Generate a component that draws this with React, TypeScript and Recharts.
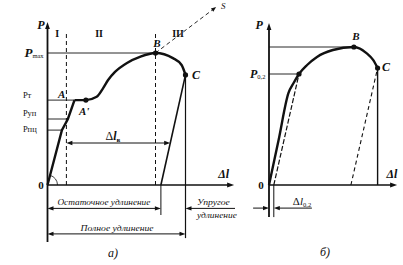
import React from 'react';
import { ComposedChart, Line, XAxis, YAxis, ReferenceLine, ReferenceDot } from 'recharts';

// units: Δl and P in arbitrary divisions
type Pt = [number, number];

// --- panel а) ---
const loadA: Pt[] = [[0, 0], [4.8, 18.3], [6.8, 22], [9, 28.3]];
const yieldA: Pt[] = [
  [9, 28.3], [12.8, 28.3], [16.4, 29.4], [18.5, 32.2], [20.2, 35], [22.5, 37.7],
  [26.5, 40.7], [30.8, 42.7], [36, 44], [41.8, 42.3], [44.7, 40], [46, 36.7],
];
const unloadA: Pt[] = [[46, 36.7], [37.8, 0]];
const P_MAX_A = 44;
const P_T = 28.3;
const P_UP = 22;
const P_PC = 18.3;
const DL_A = 6.3; // граница I/II
const DL_B = 36; // точка B
const DL_C = 46; // точка C
const DL_RES = 37.8; // остаточное удлинение
const S_END: Pt = [56.2, 59.3];
const zoneLabels = ['I', 'II', 'III'];
const zoneX = [3.2, 17.2, 43.5];

// --- panel б) ---
const curveB: Pt[] = [
  [0, 0], [3.2, 15], [6.5, 30.7], [8.2, 34], [10, 37], [12.7, 40], [16, 42.7],
  [21.3, 45], [28.3, 46], [32.6, 43.9], [34.7, 41.7], [36.2, 39],
];
const offsetB: Pt[] = [[1.6, 0], [10, 37]];
const unloadB: Pt[] = [[27.3, 0], [36.2, 39]];
const P_MAX_B = 46;
const P_02 = 37;
const DL_02 = 1.6;

const FONT = '"Liberation Serif", "DejaVu Serif", serif';
const PX = 3;
const H = 265;
const ORIGIN_Y = 185;
const INK = '#111';

const toObj = (pts: Pt[]) => pts.map(([x, y]) => ({ x, y }));

function head(x: number, y: number, ux: number, uy: number, l: number, w: number) {
  const bx = x - ux * l;
  const by = y - uy * l;
  return (
    <polygon
      points={`${x},${y} ${bx - uy * w},${by + ux * w} ${bx + uy * w},${by - ux * w}`}
      fill={INK}
    />
  );
}

type SegOpt = { w?: number; dash?: string; start?: boolean; end?: boolean; hl?: number; hw?: number };

function ArrowLine(p: any) {
  const { x1, y1, x2, y2, w = 1, dash, start, end, hl = 6, hw = 2.2 } = p;
  const d = Math.hypot(x2 - x1, y2 - y1) || 1;
  const ux = (x2 - x1) / d;
  const uy = (y2 - y1) / d;
  const ax = start ? x1 + ux * hl * 0.8 : x1;
  const ay = start ? y1 + uy * hl * 0.8 : y1;
  const bx = end ? x2 - ux * hl * 0.8 : x2;
  const by = end ? y2 - uy * hl * 0.8 : y2;
  return (
    <g>
      <line x1={ax} y1={ay} x2={bx} y2={by} stroke={INK} strokeWidth={w} strokeDasharray={dash} />
      {start && head(x1, y1, -ux, -uy, hl, hw)}
      {end && head(x2, y2, ux, uy, hl, hw)}
    </g>
  );
}

const seg = (key: string, a: Pt, b: Pt, o: SegOpt = {}) => (
  <ReferenceLine
    key={key}
    segment={[{ x: a[0], y: a[1] }, { x: b[0], y: b[1] }]}
    ifOverflow="visible"
    shape={(p: any) => <ArrowLine {...p} {...o} />}
  />
);

const dot = (key: string, p: Pt) => (
  <ReferenceDot key={key} x={p[0]} y={p[1]} r={2.6} fill={INK} stroke="none" ifOverflow="visible" />
);

type TxtOpt = {
  size?: number;
  italic?: boolean;
  bold?: boolean;
  anchor?: 'start' | 'middle' | 'end';
  len?: number;
};

const txt = (key: string, p: Pt, content: React.ReactNode, o: TxtOpt = {}) => (
  <ReferenceDot
    key={key}
    x={p[0]}
    y={p[1]}
    r={0}
    ifOverflow="visible"
    shape={(d: any) => (
      <text
        x={d.cx}
        y={d.cy}
        fontFamily={FONT}
        fontSize={o.size ?? 10}
        fontStyle={o.italic ? 'italic' : 'normal'}
        fontWeight={o.bold ? 'bold' : 'normal'}
        textAnchor={o.anchor ?? 'middle'}
        fill={INK}
        textLength={o.len}
        lengthAdjust={o.len ? 'spacingAndGlyphs' : undefined}
      >
        {content}
      </text>
    )}
  />
);

function Panel({ left, width, originX, children }: { left: number; width: number; originX: number; children: React.ReactNode }) {
  return (
    <div style={{ position: 'absolute', left, top: 0 }}>
      <ComposedChart width={width} height={H} margin={{ top: 0, right: 0, bottom: 0, left: 0 }}>
        <XAxis type="number" dataKey="x" hide allowDataOverflow domain={[-originX / PX, (width - originX) / PX]} />
        <YAxis type="number" dataKey="y" hide allowDataOverflow domain={[-(H - ORIGIN_Y) / PX, ORIGIN_Y / PX]} />
        {children}
      </ComposedChart>
    </div>
  );
}

const curveLine = (key: string, pts: Pt[], type: 'linear' | 'monotone', w: number, dash?: string) => (
  <Line
    key={key}
    data={toObj(pts)}
    dataKey="y"
    type={type}
    stroke={INK}
    strokeWidth={w}
    strokeDasharray={dash}
    dot={false}
    activeDot={false}
    isAnimationActive={false}
  />
);

export default function App() {
  const angle = Math.atan2(loadA[1][1], loadA[1][0]);
  return (
    <div style={{ position: 'absolute', left: 0, top: 0, width: 403, height: 265, background: '#fff', overflow: 'hidden' }}>
      <Panel left={0} width={240} originX={47.5}>
        {seg('pmax', [0, P_MAX_A], [DL_B, P_MAX_A], { w: 0.9 })}
        {seg('pt', [0, P_T], [loadA[3][0], P_T], { w: 0.9 })}
        {seg('pup', [0, P_UP], [loadA[2][0], P_UP], { w: 0.9 })}
        {seg('ppc', [0, P_PC], [loadA[1][0], P_PC], { w: 0.9 })}
        {seg('zone1', [DL_A, 0], [DL_A, 51], { w: 1, dash: '4 3' })}
        {seg('zone2', [DL_B, 0], [DL_B, 51], { w: 1, dash: '4 3' })}
        {seg('bs', [DL_B, P_MAX_A], S_END, { w: 0.9, dash: '4 3', end: true, hl: 5, hw: 2 })}
        {seg('unload', unloadA[0], unloadA[1], { w: 1.6 })}
        {seg('vres', [DL_RES, 0], [DL_RES, -10], { w: 1 })}
        {seg('vc', [DL_C, 36.7], [DL_C, -17.7], { w: 1.2 })}
        {seg('dlv', [DL_A, 14], [40.9, 14], { w: 1, start: true, end: true })}
        {seg('res', [0, -7.8], [DL_RES, -7.8], { w: 1, start: true, end: true })}
        {seg('el', [62.5, -7.8], [DL_C, -7.8], { w: 1, end: true })}
        {seg('full', [0, -16.3], [DL_C, -16.3], { w: 1, start: true, end: true })}
        {seg('xaxis', [0, 0], [62.2, 0], { w: 1.6, end: true, hl: 7, hw: 2.4 })}
        {seg('yaxis', [0, -19], [0, 54.3], { w: 1.8, end: true, hl: 7, hw: 2.4 })}
        {curveLine('load', loadA, 'linear', 2.4)}
        {curveLine('yield', yieldA, 'monotone', 2.4)}
        <ReferenceDot
          x={0}
          y={0}
          r={0}
          ifOverflow="visible"
          shape={(d: any) => (
            <path
              d={`M${d.cx + 10},${d.cy} A10,10 0 0 0 ${d.cx + 10 * Math.cos(angle)},${d.cy - 10 * Math.sin(angle)}`}
              fill="none"
              stroke={INK}
              strokeWidth={0.8}
            />
          )}
        />
        {dot('dA1', yieldA[1])}
        {dot('dB', yieldA[8])}
        {dot('dC', yieldA[11])}
        {zoneLabels.map((z, i) => txt(`z${i}`, [zoneX[i], 49.5], z, { size: 10, bold: true }))}
        {txt('P', [-2.2, 52], 'P', { size: 12, italic: true, bold: true })}
        {txt(
          'Pmax',
          [-1.3, 42.7],
          <>
            <tspan fontStyle="italic" fontWeight="bold" fontSize={13}>P</tspan>
            <tspan fontSize={6.5} dy={1}>max</tspan>
          </>,
          { anchor: 'end' },
        )}
        {txt('Pt', [-8.2, 29], 'Рт', { size: 8.5, anchor: 'start' })}
        {txt('Pup', [-8.2, 23], 'Руп', { size: 8.5, anchor: 'start' })}
        {txt('Ppc', [-8.2, 17.7], 'Рпц', { size: 8.5, anchor: 'start' })}
        {txt('A', [4.7, 29], 'A', { size: 11, italic: true, bold: true })}
        {txt('A1', [12.2, 23.3], "A'", { size: 11, italic: true, bold: true })}
        {txt('B', [36.5, 46], 'B', { size: 11, italic: true, bold: true })}
        {txt('C', [49.5, 35.3], 'C', { size: 12, italic: true, bold: true })}
        {txt('S', [57.8, 58.6], 'S', { size: 9, italic: true, anchor: 'start' })}
        {txt('O', [-2.2, -1.3], '0', { size: 11, bold: true })}
        {txt('dl', [58.7, 2.3], 'Δl', { size: 12, italic: true, bold: true })}
        {txt(
          'dlv',
          [21.8, 15],
          <>
            <tspan fontSize={12}>Δ</tspan>
            <tspan fontSize={12} fontStyle="italic" fontWeight="bold">l</tspan>
            <tspan fontSize={7} dy={2} fontWeight="bold">в</tspan>
          </>,
        )}
        {txt('res', [18.8, -6.8], 'Остаточное удлинение', { size: 9, italic: true, len: 93 })}
        {txt('el1', [49.8, -6.7], 'Упругое', { size: 9, italic: true, anchor: 'start', len: 33 })}
        {txt('el2', [49.8, -11], 'удлинение', { size: 9, italic: true, anchor: 'start', len: 40 })}
        {txt('full', [23.2, -15.3], 'Полное удлинение', { size: 9, italic: true, len: 73 })}
        {txt('a', [21.8, -24], 'а)', { size: 12, italic: true })}
      </Panel>
      <Panel left={240} width={163} originX={29}>
        {seg('pmax', [0, P_MAX_B], [curveB[8][0], P_MAX_B], { w: 0.9 })}
        {seg('p02', [0, P_02], [curveB[4][0], P_02], { w: 0.9 })}
        {seg('vc', [curveB[11][0], curveB[11][1]], [curveB[11][0], 0], { w: 1.4 })}
        {seg('off', offsetB[0], offsetB[1], { w: 1.2, dash: '5 2' })}
        {seg('unl', unloadB[0], unloadB[1], { w: 1.1, dash: '4 3' })}
        {seg('v02', [DL_02, 0], [DL_02, -10.7], { w: 1 })}
        {seg('a1', [-5.3, -7.7], [0, -7.7], { w: 1, end: true })}
        {seg('a2', [14.3, -7.7], [DL_02, -7.7], { w: 1, end: true })}
        {seg('xaxis', [0, 0], [42.7, 0], { w: 1.5, end: true, hl: 7, hw: 2.4 })}
        {seg('yaxis', [0, -10.7], [0, 54], { w: 1.8, end: true, hl: 7, hw: 2.4 })}
        {curveLine('curve', curveB, 'monotone', 2.4)}
        {dot('d02', curveB[4])}
        {dot('dB', curveB[8])}
        {dot('dC', curveB[11])}
        {txt('P', [-3.3, 52], 'P', { size: 12, italic: true, bold: true })}
        {txt(
          'P02',
          [-1.2, 35.7],
          <>
            <tspan fontStyle="italic" fontWeight="bold" fontSize={12}>P</tspan>
            <tspan fontSize={6.5} dy={1.5}>0,2</tspan>
          </>,
          { anchor: 'end' },
        )}
        {txt('O', [-2.7, -1.3], '0', { size: 11, bold: true })}
        {txt('B', [29, 48.3], 'B', { size: 11, italic: true, bold: true })}
        {txt('C', [39, 38], 'C', { size: 12, italic: true, bold: true })}
        {txt('dl', [41, 2.3], 'Δl', { size: 12, italic: true, bold: true })}
        {txt(
          'dl02',
          [11, -6.6],
          <>
            <tspan fontSize={11}>Δ</tspan>
            <tspan fontSize={11} fontStyle="italic">l</tspan>
            <tspan fontSize={6.5} dy={2}>0,2</tspan>
          </>,
        )}
        {txt('b', [18.7, -23.7], 'б)', { size: 12, italic: true })}
      </Panel>
    </div>
  );
}
